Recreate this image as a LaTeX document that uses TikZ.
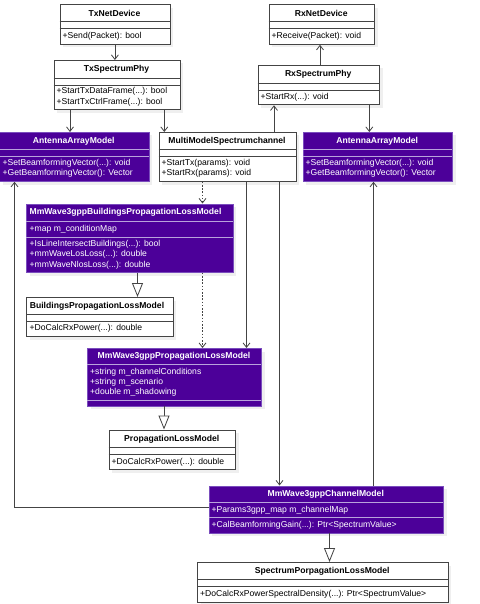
\documentclass[tikz,border=0pt]{standalone}
\usepackage{fontspec}
\setmainfont{Liberation Sans}
\usetikzlibrary{arrows.meta}
\definecolor{umlpurple}{HTML}{4C0099}
\definecolor{umlpborder}{HTML}{7A4DBD}
\definecolor{umlpsep}{HTML}{B9A3DC}
\definecolor{umlline}{HTML}{444444}
\definecolor{umlshadow}{HTML}{EFEFEF}
\tikzset{
  whitecls/.style={draw=umlline, fill=white, line width=0.8pt, inner sep=0pt, anchor=north west, rectangle},
  purplecls/.style={draw=umlpborder, fill=umlpurple, line width=0.8pt, inner sep=0pt, anchor=north west, rectangle},
  wsep/.style={draw=umlline, line width=0.8pt},
  psep/.style={draw=umlpsep, line width=0.8pt},
  ctitle/.style={font=\fontsize{8.6}{10}\selectfont\bfseries, inner sep=0pt, text height=6.2pt, text depth=1.8pt, anchor=center},
  cmember/.style={font=\fontsize{8.6}{10}\selectfont, inner sep=0pt, text height=6.2pt, text depth=1.8pt, anchor=west},
  wtext/.style={text=black},
  ptext/.style={text=white},
  assoc/.style={draw=umlline, line width=0.8pt, -{Straight Barb[length=4.5pt,width=7pt,line width=0.8pt]}},
  depend/.style={assoc, dash pattern=on 1.6pt off 1.6pt},
  inherit/.style={draw=umlline, line width=0.8pt, -{Triangle[open,length=14pt,width=11pt,line width=0.8pt,fill=white]}},
}
% #1 name, #2 style, #3 x1, #4 y1, #5 width, #6 height
\newcommand{\clsbox}[6]{%
  \fill[umlshadow] ({#3+3.5},{#4+3.5}) rectangle ++(#5,#6);
  \node[#2, minimum width=#5pt, minimum height=#6pt] (#1) at (#3,#4) {};
}
\begin{document}
\begin{tikzpicture}[x=1pt,y=-1pt]
\useasboundingbox[fill=white] (0,0) rectangle (479,604);

% ---------- TxNetDevice ----------
\clsbox{txnet}{whitecls}{59.5}{4.5}{110}{39.5}
\draw[wsep] (59.5,21.5) -- (169.5,21.5);
\draw[wsep] (59.5,28.5) -- (169.5,28.5);
\node[ctitle,wtext] (txnetT) at (114.5,14) {TxNetDevice};
\node[cmember,wtext] (txnetM) at (62.5,36.7) {+Send(Packet): bool};

% ---------- TxSpectrumPhy ----------
\clsbox{txphy}{whitecls}{53.5}{60}{126}{49.5}
\draw[wsep] (53.5,78.5) -- (179.5,78.5);
\draw[wsep] (53.5,85) -- (179.5,85);
\node[ctitle,wtext] (txphyT) at (116.5,69.7) {TxSpectrumPhy};
\node[cmember,wtext] (txphyM1) at (56.5,91.7) {+StartTxDataFrame(...): bool};
\node[cmember,wtext] (txphyM2) at (56.5,102) {+StartTxCtrlFrame(...): bool};

% ---------- RxNetDevice ----------
\clsbox{rxnet}{whitecls}{268.5}{4.5}{105.5}{39.5}
\draw[wsep] (268.5,21.5) -- (374,21.5);
\draw[wsep] (268.5,28.5) -- (374,28.5);
\node[ctitle,wtext] (rxnetT) at (321.25,14) {RxNetDevice};
\node[cmember,wtext] (rxnetM) at (271.5,36.7) {+Receive(Packet): void};

% ---------- RxSpectrumPhy ----------
\clsbox{rxphy}{whitecls}{257.5}{65}{121.5}{39.5}
\draw[wsep] (257.5,83.5) -- (379,83.5);
\draw[wsep] (257.5,90) -- (379,90);
\node[ctitle,wtext] (rxphyT) at (318.25,74.7) {RxSpectrumPhy};
\node[cmember,wtext] (rxphyM) at (260.5,97.7) {+StartRx(...): void};

% ---------- AntennaArrayModel (left) ----------
\clsbox{antL}{purplecls}{-1}{132}{149.5}{49}
\draw[psep] (-1,149) -- (148.5,149);
\draw[psep] (-1,156) -- (148.5,156);
\node[ctitle,ptext] (antLT) at (73.75,141) {AntennaArrayModel};
\node[cmember,ptext] (antLM1) at (2.5,163.3) {+SetBeamformingVector(...): void};
\node[cmember,ptext] (antLM2) at (2.5,173.7) {+GetBeamformingVector(): Vector};

% ---------- MultiModelSpectrumchannel ----------
\clsbox{mmsc}{whitecls}{158.5}{132}{137}{49}
\draw[wsep] (158.5,149) -- (295.5,149);
\draw[wsep] (158.5,156) -- (295.5,156);
\node[ctitle,wtext] (mmscT) at (227,141) {MultiModelSpectrumchannel};
\node[cmember,wtext] (mmscM1) at (161.5,163.3) {+StartTx(params): void};
\node[cmember,wtext] (mmscM2) at (161.5,173.7) {+StartRx(params): void};

% ---------- AntennaArrayModel (right) ----------
\clsbox{antR}{purplecls}{302.5}{132}{149.5}{49}
\draw[psep] (302.5,149) -- (452,149);
\draw[psep] (302.5,156) -- (452,156);
\node[ctitle,ptext] (antRT) at (377.25,141) {AntennaArrayModel};
\node[cmember,ptext] (antRM1) at (305.5,163.3) {+SetBeamformingVector(...): void};
\node[cmember,ptext] (antRM2) at (305.5,173.7) {+GetBeamformingVector(): Vector};

% ---------- MmWave3gppBuildingsPropagationLossModel ----------
\clsbox{bld}{purplecls}{26}{203.5}{206.5}{68.5}
\draw[psep] (26,221) -- (232.5,221);
\draw[psep] (26,237) -- (232.5,237);
\node[ctitle,ptext] (bldT) at (125.5,212.7) {MmWave3gppBuildingsPropagationLossModel};
\node[cmember,ptext] (bldA) at (29.5,229) {+map m\_conditionMap};
\node[cmember,ptext] (bldM1) at (29.5,244) {+IsLineIntersectBuildings(...): bool};
\node[cmember,ptext] (bldM2) at (29.5,254.7) {+mmWaveLosLoss(...): double};
\node[cmember,ptext] (bldM3) at (29.5,265) {+mmWaveNlosLoss(...): double};

% ---------- BuildingsPropagationLossModel ----------
\clsbox{bplm}{whitecls}{26}{297}{146.5}{39}
\draw[wsep] (26,314.5) -- (172.5,314.5);
\draw[wsep] (26,321) -- (172.5,321);
\node[ctitle,wtext] (bplmT) at (97,306) {BuildingsPropagationLossModel};
\node[cmember,wtext] (bplmM) at (29.5,328.7) {+DoCalcRxPower(...): double};

% ---------- MmWave3gppPropagationLossModel ----------
\clsbox{mwpl}{purplecls}{87}{348}{174}{57.5}
\draw[psep] (87,364) -- (261,364);
\draw[psep] (87,400.7) -- (261,400.7);
\node[ctitle,ptext] (mwplT) at (174,356) {MmWave3gppPropagationLossModel};
\node[cmember,ptext] (mwplA1) at (90,372.3) {+string m\_channelConditions};
\node[cmember,ptext] (mwplA2) at (90,382.7) {+string m\_scenario};
\node[cmember,ptext] (mwplA3) at (90,392.7) {+double m\_shadowing};

% ---------- PropagationLossModel ----------
\clsbox{plm}{whitecls}{108.5}{429.5}{126.5}{39.5}
\draw[wsep] (108.5,447.5) -- (235,447.5);
\draw[wsep] (108.5,454.5) -- (235,454.5);
\node[ctitle,wtext] (plmT) at (171.75,439) {PropagationLossModel};
\node[cmember,wtext] (plmM) at (111.5,462) {+DoCalcRxPower(...): double};

% ---------- MmWave3gppChannelModel ----------
\clsbox{chan}{purplecls}{208.5}{485.5}{234.5}{47}
\draw[psep] (208.5,502) -- (443,502);
\draw[psep] (208.5,517) -- (443,517);
\node[ctitle,ptext] (chanT) at (325.75,494) {MmWave3gppChannelModel};
\node[cmember,ptext] (chanA) at (211.5,510) {+Params3gpp\_map m\_channelMap};
\node[cmember,ptext] (chanM) at (211.5,525.7) {+CalBeamformingGain(...): Ptr<SpectrumValue>};

% ---------- SpectrumPorpagationLossModel ----------
\clsbox{splm}{whitecls}{197}{562}{250.5}{39.5}
\draw[wsep] (197,579.5) -- (447.5,579.5);
\draw[wsep] (197,586.7) -- (447.5,586.7);
\node[ctitle,wtext] (splmT) at (322.25,571) {SpectrumPorpagationLossModel};
\node[cmember,wtext] (splmM) at (200,594.3) {+DoCalcRxPowerSpectralDensity(...): Ptr<SpectrumValue>};

% ---------- connectors ----------
\draw[assoc] (txnet.south) -- (txnet.south |- txphy.north);
\draw[assoc] ([xshift=16.5pt]txphy.south west) -- ([xshift=16.5pt]txphy.south west |- antL.north);
\draw[assoc] ([xshift=-16pt]txphy.south east) -- ([xshift=-16pt]txphy.south east |- mmsc.north);
\draw[assoc] ([xshift=115.5pt]mmsc.north west) -- ([xshift=115.5pt]mmsc.north west |- rxphy.south);
\draw[assoc] ([xshift=62.5pt]rxphy.north west) -- ([xshift=62.5pt]rxphy.north west |- rxnet.south);
\draw[assoc] ([xshift=-10.5pt]rxphy.south east) -- ([xshift=-10.5pt]rxphy.south east |- antR.north);
\draw[depend] ([xshift=44pt]mmsc.south west) -- ([xshift=44pt]mmsc.south west |- bld.north);
\draw[depend] ([xshift=176.5pt]bld.south west) -- ([xshift=176.5pt]bld.south west |- mwpl.north);
\draw[assoc] ([xshift=88pt]mmsc.south west) -- ([xshift=88pt]mmsc.south west |- mwpl.north);
\draw[assoc] ([xshift=121pt]mmsc.south west) -- ([xshift=121pt]mmsc.south west |- chan.north);
\draw[assoc] ([xshift=165pt]chan.north west) -- ([xshift=165pt]chan.north west |- antR.south);
\draw[assoc] ([yshift=2.5pt]chan.west) -| ([xshift=15.5pt]antL.south west);
\draw[inherit] ([xshift=111.5pt]bld.south west) -- ([xshift=111.5pt]bld.south west |- bplm.north);
\draw[inherit] ([xshift=77pt]mwpl.south west) -- ([xshift=77pt]mwpl.south west |- plm.north);
\draw[inherit] ([xshift=121pt]chan.south west) -- ([xshift=121pt]chan.south west |- splm.north);
\end{tikzpicture}
\end{document}
